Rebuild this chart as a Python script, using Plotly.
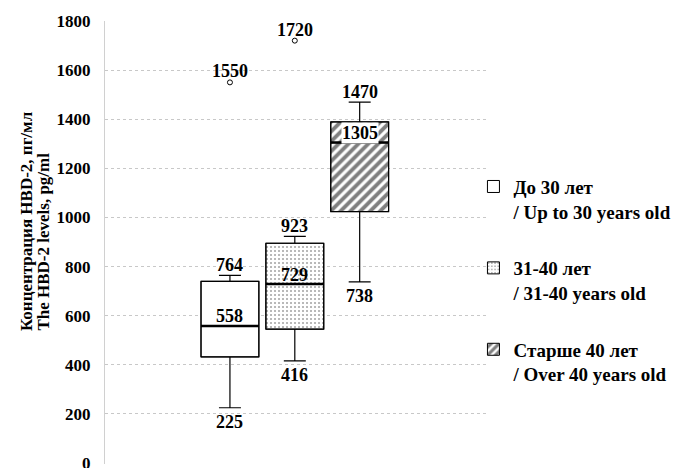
import plotly.graph_objects as go

# ---- data ----
group_names = ["До 30 лет<br>/ Up to 30 years old",
               "31-40 лет<br>/ 31-40 years old",
               "Старше 40 лет<br>/ Over 40 years old"]
positions = [0, 1, 2]
q1 = [432, 545, 1024]
median = [558, 729, 1305]
q3 = [740, 895, 1389]
lower_fence = [225, 416, 738]
upper_fence = [764, 923, 1470]
outliers = [[1550], [1720], []]
y_ticks = [0, 200, 400, 600, 800, 1000, 1200, 1400, 1600, 1800]

# ---- styles ----
FONT = "Liberation Serif, Times New Roman, serif"
box_w = 0.892
patterns = [
    dict(shape="", fgcolor="black", bgcolor="white"),
    dict(shape=".", size=4, solidity=0.2, fgcolor="#444444", bgcolor="white"),
    dict(shape="/", size=7, solidity=0.55, fgcolor="black", bgcolor="white"),
]

fig = go.Figure()

# patterned fills (bars from q1 to q3) - also provide legend entries
for i in range(3):
    fig.add_trace(go.Bar(
        x=[positions[i]], y=[q3[i] - q1[i]], base=[q1[i]], width=box_w,
        marker=dict(color="white", pattern=patterns[i],
                    line=dict(color="black", width=1)),
        name=group_names[i], legendgroup=f"g{i}", showlegend=True,
        hoverinfo="skip"))

# box outlines and whiskers
for i in range(3):
    fig.add_trace(go.Box(
        x=[positions[i]], q1=[q1[i]], median=[median[i]], q3=[q3[i]],
        lowerfence=[lower_fence[i]], upperfence=[upper_fence[i]],
        width=box_w, whiskerwidth=0.38,
        fillcolor="rgba(0,0,0,0)", line=dict(color="black", width=1.2),
        boxpoints=False, showlegend=False, legendgroup=f"g{i}"))

# thicker median lines
for i in range(3):
    fig.add_trace(go.Scatter(
        x=[positions[i] - box_w / 2, positions[i] + box_w / 2],
        y=[median[i], median[i]], mode="lines",
        line=dict(color="black", width=2.5),
        showlegend=False, hoverinfo="skip"))

# outliers
for i in range(3):
    if outliers[i]:
        fig.add_trace(go.Scatter(
            x=[positions[i]] * len(outliers[i]), y=outliers[i], mode="markers",
            marker=dict(symbol="circle-open", size=5, color="black",
                        line=dict(width=1)),
            showlegend=False, hoverinfo="skip"))

# value labels
lab_font = dict(family=FONT, size=18, color="black", weight="bold")
for i in range(3):
    fig.add_annotation(x=positions[i], y=upper_fence[i], text=str(upper_fence[i]),
                       showarrow=False, yshift=10, font=lab_font)
    fig.add_annotation(x=positions[i], y=lower_fence[i], text=str(lower_fence[i]),
                       showarrow=False, yshift=-14, font=lab_font)
    fig.add_annotation(x=positions[i], y=median[i], text=str(median[i]),
                       showarrow=False, yshift=9.5, font=lab_font,
                       bgcolor="white" if i == 2 else None, borderpad=0)
    for v in outliers[i]:
        fig.add_annotation(x=positions[i], y=v, text=str(v),
                           showarrow=False, yshift=11, font=lab_font)

# axis title (two lines)
title_font = dict(family=FONT, size=17, color="black", weight="bold")
fig.add_annotation(xref="paper", yref="paper", x=-0.203, y=0.296,
                   xanchor="center", yanchor="bottom", textangle=-90,
                   text="Концентрация HBD-2, пг/мл", showarrow=False, font=title_font)
fig.add_annotation(xref="paper", yref="paper", x=-0.160, y=0.296,
                   xanchor="center", yanchor="bottom", textangle=-90,
                   text="The HBD-2 levels, pg/ml", showarrow=False, font=title_font)

# the page body adds an 8px offset, so the figure is sized to fit inside it
fig.update_layout(
    width=677, height=460,
    margin=dict(l=96.5, r=196.7, t=12.7, b=3.7),
    paper_bgcolor="white", plot_bgcolor="white",
    barmode="overlay", boxmode="overlay",
    showlegend=True,
    legend=dict(x=0.962, xanchor="left", y=0.669, yanchor="top",
                font=dict(family=FONT, size=19, color="black", weight="bold"),
                valign="top", tracegroupgap=29, bgcolor="rgba(0,0,0,0)"),
    xaxis=dict(range=[-1.926, 3.978], showgrid=False, zeroline=False,
               showticklabels=False, ticks="", showline=False),
    yaxis=dict(range=[-4, 1800], tickvals=y_ticks, showgrid=True,
               gridcolor="#c8c8c8", griddash="dot", gridwidth=1,
               zeroline=False, showline=True, linecolor="#d0d0d0", linewidth=1,
               ticks="", ticklabelstandoff=10, ticklabeloverflow="allow",
               automargin=False,
               tickfont=dict(family=FONT, size=17, color="black", weight="bold")),
)

fig.write_html("out.html")
